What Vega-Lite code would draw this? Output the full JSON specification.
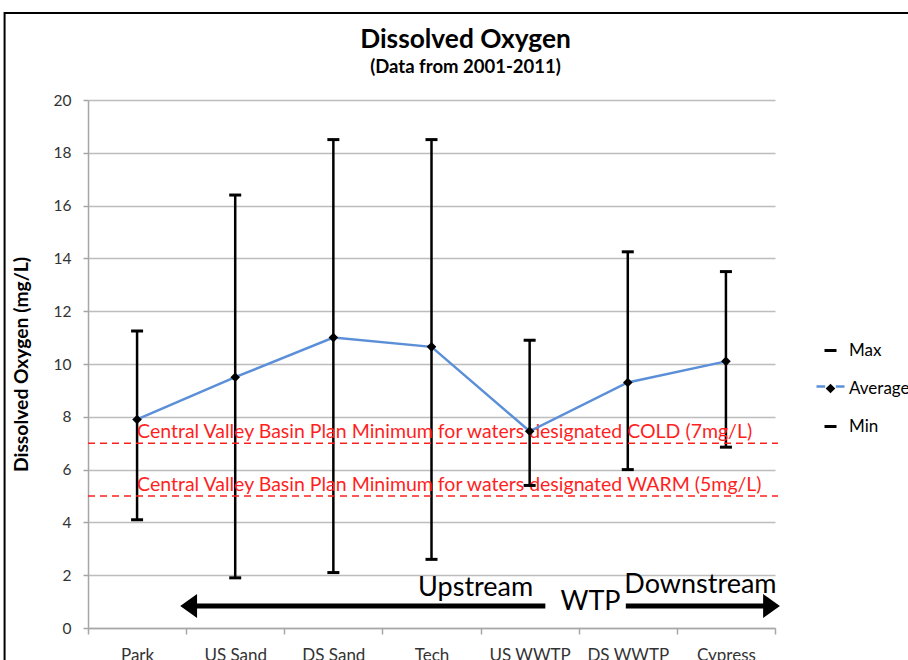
{
  "$schema": "https://vega.github.io/schema/vega-lite/v6.json",
  "width": 687,
  "height": 528,
  "autosize": {"type": "none"},
  "padding": {"left": 88, "top": 100, "right": 133, "bottom": 32},
  "background": "white",
  "title": {
    "text": "Dissolved Oxygen",
    "subtitle": "(Data from 2001-2011)",
    "font": "Lato",
    "fontSize": 26.3,
    "fontWeight": "bold",
    "color": "black",
    "subtitleFont": "Lato",
    "subtitleFontSize": 18.5,
    "subtitleFontWeight": "bold",
    "subtitleColor": "black",
    "subtitlePadding": 5,
    "anchor": "middle",
    "dx": 34,
    "offset": -65
  },
  "config": {
    "view": {"stroke": null},
    "axis": {"labelFont": "Lato", "titleFont": "Lato"}
  },
  "datasets": {
    "sites": [
      {"site": "Park", "i": 0, "Min": 4.1, "Average": 7.9, "Max": 11.25},
      {"site": "US Sand", "i": 1, "Min": 1.9, "Average": 9.5, "Max": 16.4},
      {"site": "DS Sand", "i": 2, "Min": 2.1, "Average": 11.0, "Max": 18.5},
      {"site": "Tech", "i": 3, "Min": 2.6, "Average": 10.65, "Max": 18.5},
      {"site": "US WWTP", "i": 4, "Min": 5.4, "Average": 7.45, "Max": 10.9},
      {"site": "DS WWTP", "i": 5, "Min": 6.0, "Average": 9.3, "Max": 14.25},
      {"site": "Cypress", "i": 6, "Min": 6.85, "Average": 10.1, "Max": 13.5}
    ],
    "limits": [
      {"label": "Central Valley Basin Plan Minimum for waters designated COLD (7mg/L)", "value": 7},
      {"label": "Central Valley Basin Plan Minimum for waters designated WARM (5mg/L)", "value": 5}
    ],
    "arrows": [
      {"dir": "left", "tip": 0.44, "start": 0.55, "end": 4.16, "y": 0.83},
      {"dir": "right", "tip": 6.55, "start": 4.98, "end": 6.45, "y": 0.83}
    ],
    "arrowText": [
      {"text": "Upstream", "x": 3.45, "y": 1.52},
      {"text": "WTP", "x": 4.62, "y": 0.98},
      {"text": "Downstream", "x": 5.74, "y": 1.63}
    ],
    "frame": [{"x": -1.35, "x2": 9.0, "y": 23.3, "y2": -3}]
  },
  "layer": [
    {
      "data": {"name": "sites"},
      "mark": {"type": "rule", "color": "black", "strokeWidth": 2.5},
      "encoding": {
        "x": {
          "field": "i",
          "type": "quantitative",
          "scale": {"domain": [-0.5, 6.5], "nice": false, "zero": false},
          "axis": {
            "title": null,
            "values": [-0.5, 0, 0.5, 1, 1.5, 2, 2.5, 3, 3.5, 4, 4.5, 5, 5.5, 6, 6.5],
            "labelExpr": "datum.value === 0 ? 'Park' : datum.value === 1 ? 'US Sand' : datum.value === 2 ? 'DS Sand' : datum.value === 3 ? 'Tech' : datum.value === 4 ? 'US WWTP' : datum.value === 5 ? 'DS WWTP' : datum.value === 6 ? 'Cypress' : ''",
            "labelFontSize": 17,
            "labelColor": "#333333",
            "labelPadding": 13,
            "labelFlush": false,
            "labelOverlap": false,
            "domainColor": "#a6a6a6",
            "domainWidth": 1.5,
            "tickColor": "#a6a6a6",
            "tickWidth": 1.5,
            "tickSize": 6,
            "tickOpacity": {"condition": {"test": "datum.value % 1 !== 0", "value": 1}, "value": 0},
            "grid": false
          }
        },
        "y": {
          "field": "Min",
          "type": "quantitative",
          "scale": {"domain": [0, 20], "nice": false},
          "axis": {
            "title": "Dissolved Oxygen (mg/L)",
            "titleFontSize": 19.3,
            "titleFontWeight": "bold",
            "titleColor": "black",
            "titlePadding": 22,
            "values": [0, 2, 4, 6, 8, 10, 12, 14, 16, 18, 20],
            "labelFontSize": 15.5,
            "labelColor": "#333333",
            "labelPadding": 12,
            "domainColor": "#a6a6a6",
            "domainWidth": 1.5,
            "tickColor": "#a6a6a6",
            "tickWidth": 1.5,
            "tickSize": 5,
            "grid": true,
            "gridColor": "#bdbdbd",
            "gridWidth": 1.5
          }
        },
        "y2": {"field": "Max"}
      }
    },
    {
      "data": {"name": "limits"},
      "mark": {"type": "rule", "color": "#ff1f1f", "strokeWidth": 1.6, "strokeDash": [7, 5], "clip": false},
      "encoding": {
        "x": {"datum": -0.5, "type": "quantitative"},
        "x2": {"datum": 6.53},
        "y": {"field": "value", "type": "quantitative"}
      }
    },
    {
      "data": {"name": "limits"},
      "mark": {"type": "text", "color": "#ff1f1f", "font": "Lato", "fontSize": 19.5, "align": "left", "baseline": "alphabetic", "dy": -5},
      "encoding": {
        "x": {"datum": 0.0, "type": "quantitative"},
        "y": {"field": "value", "type": "quantitative"},
        "text": {"field": "label"}
      }
    },
    {
      "data": {"name": "sites"},
      "mark": {"type": "line", "strokeWidth": 2.5},
      "encoding": {
        "x": {"field": "i", "type": "quantitative"},
        "y": {"field": "Average", "type": "quantitative"},
        "color": {
          "datum": "Average",
          "type": "nominal",
          "scale": {"range": ["#5b8fd8"]},
          "legend": {
            "title": null,
            "orient": "none",
            "legendX": 727,
            "legendY": 271,
            "padding": 0,
            "symbolType": "M-1,0H-0.38M0.38,0H1",
            "symbolSize": 784,
            "symbolStrokeWidth": 2.5,
            "labelExpr": "''"
          }
        }
      }
    },
    {
      "data": {"name": "sites"},
      "transform": [{"fold": ["Max", "Average", "Min"], "as": ["series", "value"]}],
      "mark": {"type": "point", "filled": true, "color": "black", "opacity": 1, "size": 144},
      "encoding": {
        "x": {"field": "i", "type": "quantitative"},
        "y": {"field": "value", "type": "quantitative"},
        "shape": {
          "field": "series",
          "type": "nominal",
          "scale": {
            "domain": ["Max", "Average", "Min"],
            "range": ["M-1,-0.25H1V0.25H-1Z", "M-0.8,0L0,-0.8L0.8,0L0,0.8Z", "M-1,-0.25H1V0.25H-1Z"]
          },
          "legend": {
            "title": null,
            "orient": "none",
            "legendX": 734,
            "legendY": 242,
            "padding": 0,
            "symbolSize": 144,
            "symbolFillColor": "black",
            "symbolStrokeWidth": 0,
            "labelFont": "Lato",
            "labelFontSize": 17,
            "labelColor": "black",
            "labelOffset": 10,
            "rowPadding": 20
          }
        }
      }
    },
    {
      "data": {"name": "arrows"},
      "mark": {"type": "rule", "color": "black", "strokeWidth": 5, "clip": false},
      "encoding": {
        "x": {"field": "start", "type": "quantitative"},
        "x2": {"field": "end"},
        "y": {"field": "y", "type": "quantitative"}
      }
    },
    {
      "data": {"name": "arrows"},
      "transform": [{"filter": "datum.dir === 'left'"}],
      "mark": {"type": "point", "filled": true, "color": "black", "opacity": 1, "size": 576, "shape": "M0,0L1.4,-1L1.4,1Z", "clip": false},
      "encoding": {
        "x": {"field": "tip", "type": "quantitative"},
        "y": {"field": "y", "type": "quantitative"}
      }
    },
    {
      "data": {"name": "arrows"},
      "transform": [{"filter": "datum.dir === 'right'"}],
      "mark": {"type": "point", "filled": true, "color": "black", "opacity": 1, "size": 576, "shape": "M0,0L-1.4,-1L-1.4,1Z", "clip": false},
      "encoding": {
        "x": {"field": "tip", "type": "quantitative"},
        "y": {"field": "y", "type": "quantitative"}
      }
    },
    {
      "data": {"name": "arrowText"},
      "mark": {"type": "text", "color": "black", "font": "Lato", "fontSize": 27, "align": "center", "baseline": "middle", "clip": false},
      "encoding": {
        "x": {"field": "x", "type": "quantitative"},
        "y": {"field": "y", "type": "quantitative"},
        "text": {"field": "text"}
      }
    },
    {
      "data": {"name": "frame"},
      "mark": {"type": "rect", "fillOpacity": 0, "stroke": "black", "strokeWidth": 2, "clip": false},
      "encoding": {
        "x": {"field": "x", "type": "quantitative"},
        "x2": {"field": "x2"},
        "y": {"field": "y", "type": "quantitative"},
        "y2": {"field": "y2"}
      }
    }
  ]
}
